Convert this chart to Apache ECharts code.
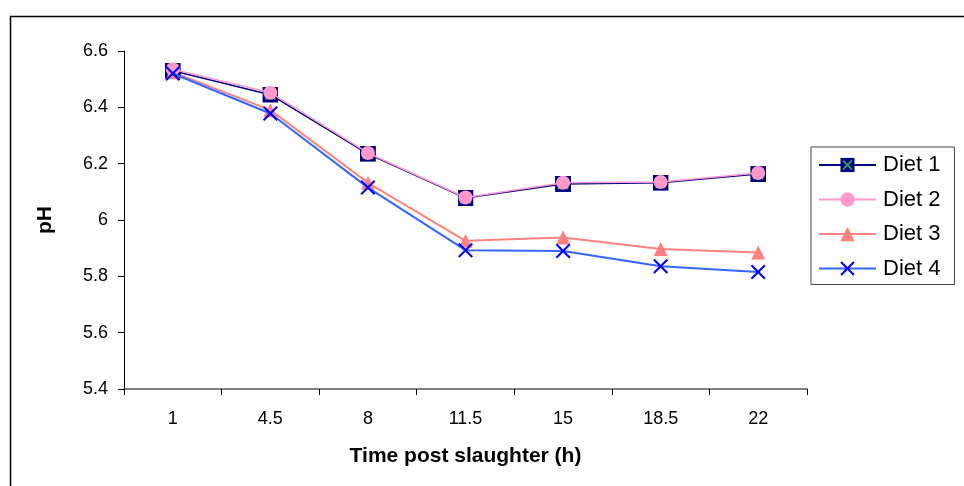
<!DOCTYPE html>
<html>
<head>
<meta charset="utf-8">
<script src="https://cdn.jsdelivr.net/npm/echarts@6/dist/echarts.min.js"></script>
<style>
  html, body { margin: 0; padding: 0; background: #fff; }
  #chart { width: 964px; height: 486px; }
</style>
</head>
<body>
<div id="chart"></div>
<script>
// Data
const hours = ['1', '4.5', '8', '11.5', '15', '18.5', '22'];
const diet1 = [6.53, 6.445, 6.235, 6.078, 6.128, 6.132, 6.163];
const diet2 = [6.535, 6.452, 6.238, 6.08, 6.132, 6.135, 6.167];
const diet3 = [6.525, 6.39, 6.132, 5.926, 5.938, 5.897, 5.885];
const diet4 = [6.52, 6.378, 6.115, 5.893, 5.89, 5.836, 5.815];

// Square with green cross for Diet 1
const squareSvg = 'data:image/svg+xml;utf8,' + encodeURIComponent(
    '<svg xmlns="http://www.w3.org/2000/svg" width="16" height="16">' +
    '<rect width="16" height="16" fill="#000080"/>' +
    '<path d="M3,3L13,13M13,3L3,13" stroke="#339966" stroke-width="2"/></svg>');
// thin "x" for Diet 4
const crossPath = 'path://M0,1L1,0L5,4L9,0L10,1L6,5L10,9L9,10L5,6L1,10L0,9L4,5Z';

const chart = echarts.init(document.getElementById('chart'));

const font = 'Liberation Sans, Arial, sans-serif';

const option = {
    animation: false,
    textStyle: { fontFamily: font },
    graphic: [{
        type: 'rect',
        shape: { x: 10.5, y: 16.5, width: 1000, height: 600 },
        style: { fill: 'none', stroke: '#000', lineWidth: 1.5 },
        z: -1
    }],
    grid: { left: 124, right: 157, top: 51, bottom: 97 },
    xAxis: {
        type: 'category',
        data: hours,
        boundaryGap: true,
        name: 'Time post slaughter (h)',
        nameLocation: 'middle',
        nameGap: 57,
        nameTextStyle: { fontSize: 21, fontWeight: 'bold', color: '#000' },
        axisLine: { lineStyle: { color: '#555', width: 1.5 } },
        axisTick: { show: true, length: 6, inside: false, lineStyle: { color: '#000' } },
        axisLabel: { fontSize: 18, color: '#000', margin: 21 },
        splitLine: { show: false }
    },
    yAxis: {
        type: 'value',
        min: 5.4,
        max: 6.6,
        interval: 0.2,
        name: 'pH',
        nameLocation: 'middle',
        nameGap: 68,
        nameRotate: 90,
        nameTextStyle: { fontSize: 21, fontWeight: 'bold', color: '#000' },
        axisLine: { show: true, lineStyle: { color: '#000', width: 1 } },
        axisTick: { show: true, length: 6, lineStyle: { color: '#000' } },
        axisLabel: {
            fontSize: 18, color: '#000', margin: 16,
            formatter: v => String(Math.round(v * 10) / 10)
        },
        splitLine: { show: false }
    },
    legend: {
        orient: 'vertical',
        left: 811,
        top: 147,
        padding: [7, 14, 5, 7],
        itemGap: 12.5,
        itemWidth: 57,
        itemHeight: 18,
        borderColor: '#444',
        borderWidth: 1,
        backgroundColor: '#fff',
        textStyle: { fontSize: 22, color: '#000', fontFamily: font, padding: [0, 0, 0, 2] },
        data: ['Diet 1', 'Diet 2', 'Diet 3', 'Diet 4']
    },
    series: [
        {
            name: 'Diet 1', type: 'line', data: diet1,
            symbol: 'image://' + squareSvg, symbolSize: 16,
            itemStyle: { color: '#000080' },
            lineStyle: { color: '#000080', width: 1.5 }, z: 2
        },
        {
            name: 'Diet 2', type: 'line', data: diet2,
            symbol: 'circle', symbolSize: 14,
            itemStyle: { color: '#FF99CC' },
            lineStyle: { color: '#FF99CC', width: 1.5 }, z: 3
        },
        {
            name: 'Diet 3', type: 'line', data: diet3,
            symbol: 'triangle', symbolSize: 14,
            itemStyle: { color: '#FF8080' },
            lineStyle: { color: '#FF8080', width: 2 }, z: 2
        },
        {
            name: 'Diet 4', type: 'line', data: diet4,
            symbol: crossPath, symbolSize: 15,
            itemStyle: { color: '#0000FF' },
            lineStyle: { color: '#3366FF', width: 2 }, z: 4
        }
    ]
};

chart.setOption(option);
</script>
</body>
</html>
